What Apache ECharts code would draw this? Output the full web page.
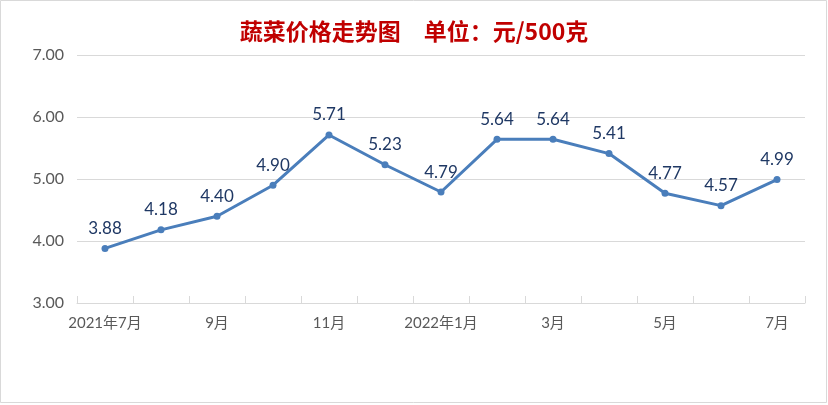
<!DOCTYPE html>
<html>
<head>
<meta charset="utf-8">
<script src="https://cdn.jsdelivr.net/npm/echarts@6/dist/echarts.min.js"></script>
<style>
html,body{margin:0;padding:0;background:#fff;}
#c{width:828px;height:405px;}
</style>
</head>
<body>
<div id="c"></div>
<script>
var categories = ['2021年7月','2021年8月','9月','10月','11月','12月','2022年1月','2月','3月','4月','5月','6月','7月'];
var prices = [3.88, 4.18, 4.40, 4.90, 5.71, 5.23, 4.79, 5.64, 5.64, 5.41, 4.77, 4.57, 4.99];
var titleText = '蔬菜价格走势图　单位：元/500克';

var chart = echarts.init(document.getElementById('c'));
chart.setOption({
  backgroundColor: '#fff',
  animation: false,
  title: {
    text: titleText,
    left: 'center',
    top: 15,
    textStyle: {color: '#C00000', fontSize: 23, fontWeight: 'bold', fontFamily: '"Noto Sans CJK SC", sans-serif'}
  },
  graphic: [{
    type: 'rect',
    shape: {x: 0.5, y: 0.5, width: 826, height: 402},
    style: {fill: 'none', stroke: '#d9d9d9', lineWidth: 1},
    silent: true
  }],
  grid: {left: 77, right: 23, top: 55, bottom: 102},
  xAxis: {
    type: 'category',
    data: categories,
    boundaryGap: true,
    axisLine: {lineStyle: {color: '#d9d9d9', width: 1}},
    axisTick: {show: true, inside: true, length: 7, interval: 0, lineStyle: {color: '#d9d9d9'}},
    axisLabel: {
      interval: 1,
      color: '#595959',
      fontSize: 15,
      margin: 13,
      fontFamily: 'Lato, "Noto Sans CJK SC", sans-serif',
      formatter: function (v) {
        if (v === '2021年8月') return '';
        return v;
      }
    }
  },
  yAxis: {
    type: 'value',
    min: 3,
    max: 7,
    interval: 1,
    axisLine: {show: false},
    axisTick: {show: false},
    splitLine: {lineStyle: {color: '#d9d9d9', width: 1}},
    axisLabel: {
      color: '#595959',
      fontSize: 16,
      margin: 13,
      fontFamily: 'Lato, "Noto Sans", sans-serif',
      formatter: function (v) { return v.toFixed(2); }
    }
  },
  series: [{
    type: 'line',
    data: prices,
    symbol: 'circle',
    symbolSize: 7,
    lineStyle: {color: '#4A7EBB', width: 3},
    itemStyle: {color: '#4A7EBB'},
    label: {
      show: true,
      position: 'top',
      distance: 8,
      color: '#1F3864',
      fontSize: 17,
      fontFamily: 'Lato, "Noto Sans", sans-serif',
      formatter: function (p) { return p.value.toFixed(2); }
    }
  }]
});
</script>
</body>
</html>
